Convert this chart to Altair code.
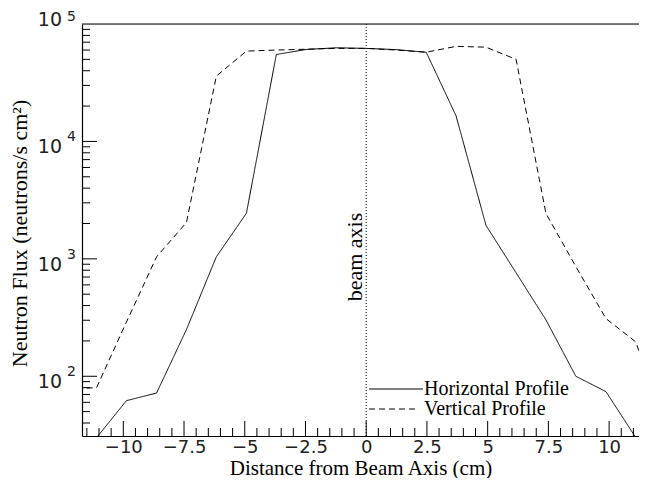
import altair as alt
import pandas as pd

# ---- data ----
x_horizontal = [-11.1, -9.87, -8.63, -7.4, -6.17, -4.93, -3.7, -2.47, -1.23, 0, 1.23, 2.47, 3.7, 4.93, 6.17, 7.4, 8.63, 9.87, 11.1]
horizontal = [30, 62, 72, 250, 1040, 2450, 55000, 60700, 62700, 62000, 60500, 57500, 16500, 1930, 760, 302, 100, 74, 30]

x_vertical = [-12.33, -11.1, -9.87, -8.63, -7.4, -6.17, -4.93, -3.7, -2.47, -1.23, 0, 1.23, 2.47, 3.7, 4.93, 6.17, 7.4, 8.63, 9.87, 11.1, 12.33]
vertical = [78, 80, 290, 1040, 2040, 36000, 58800, 60000, 61000, 62000, 62000, 60000, 57500, 64500, 63500, 50000, 2430, 860, 310, 196, 36]

series_names = ["Horizontal Profile", "Vertical Profile"]

x_major = [-10, -7.5, -5, -2.5, 0, 2.5, 5, 7.5, 10]
x_minor = [-11.5, -11, -10.5, -9.5, -9, -8.5, -8, -7, -6.5, -6, -5.5, -4.5, -4, -3.5, -3,
           -2, -1.5, -1, -0.5, 0.5, 1, 1.5, 2, 3, 3.5, 4, 4.5, 5.5, 6, 6.5, 7, 8, 8.5, 9,
           9.5, 10.5, 11]
y_major = [100, 1000, 10000]
y_minor = [40, 50, 60, 70, 80, 90, 200, 300, 400, 500, 600, 700, 800, 900,
           2000, 3000, 4000, 5000, 6000, 7000, 8000, 9000,
           20000, 30000, 40000, 50000, 60000, 70000, 80000, 90000]
y_label_values = [100, 1000, 10000]
y_label_exponents = ["2", "3", "4"]
y_top_value = [100000]
y_top_exponent = ["5"]

W, H = 557, 412
SERIF = "Liberation Serif"
SANS = "DejaVu Sans"

df = pd.concat([
    pd.DataFrame({"x": x_horizontal, "flux": horizontal, "series": series_names[0]}),
    pd.DataFrame({"x": x_vertical, "flux": vertical, "series": series_names[1]}),
])

xs = alt.Scale(domain=[-11.7, 11.23], nice=False, zero=False)
ys = alt.Scale(type="log", domain=[31, 100000], nice=False)

lines = alt.Chart(df).mark_line(clip=True, color="black", strokeWidth=1).encode(
    x=alt.X("x:Q", scale=xs, axis=alt.Axis(
        values=x_major, format=".1~f", ticks=False, tickSize=0, grid=False, domain=True,
        domainColor="black", domainWidth=1.2, labelFont=SANS, labelFontSize=18,
        labelColor="#222222", labelPadding=2, labelFlush=False, labelOverlap=False,
        title="Distance from Beam Axis (cm)", titleFont=SERIF, titleFontSize=21,
        titleFontWeight="normal", titleColor="black", titleY=32, titleBaseline="middle")),
    y=alt.Y("flux:Q", scale=ys, axis=alt.Axis(
        labels=False, ticks=False, grid=False, domainColor="black", domainWidth=1.2,
        title="Neutron Flux (neutrons/s cm²)", titleFont=SERIF, titleFontSize=22,
        titleFontWeight="normal", titleColor="black", titleX=-63, titleY=209,
        titleAngle=270, titleBaseline="middle", titleAlign="center")),
    strokeDash=alt.StrokeDash("series:N", scale=alt.Scale(domain=series_names, range=[[1, 0], [6, 4]]), legend=None),
)

top_line = alt.Chart(pd.DataFrame({"a": [0]})).mark_rule(color="black", strokeWidth=1.2).encode(
    x=alt.value(0), x2=alt.value(W), y=alt.value(0))

xmaj = alt.Chart(pd.DataFrame({"v": x_major})).mark_rule(color="black", strokeWidth=1).encode(
    x=alt.X("v:Q", scale=xs), y=alt.value(H), y2=alt.value(H - 15))
xmin = alt.Chart(pd.DataFrame({"v": x_minor})).mark_rule(color="black", strokeWidth=1).encode(
    x=alt.X("v:Q", scale=xs), y=alt.value(H), y2=alt.value(H - 8))
ymaj = alt.Chart(pd.DataFrame({"v": y_major})).mark_rule(color="black", strokeWidth=1).encode(
    y=alt.Y("v:Q", scale=ys), x=alt.value(0), x2=alt.value(15))
ymin = alt.Chart(pd.DataFrame({"v": y_minor})).mark_rule(color="black", strokeWidth=1).encode(
    y=alt.Y("v:Q", scale=ys), x=alt.value(0), x2=alt.value(8))

ylab_df = pd.DataFrame({"v": y_label_values, "e": y_label_exponents})
ylab_base = alt.Chart(ylab_df).mark_text(font=SANS, fontSize=19, align="right", baseline="middle", dy=6, color="#222222").encode(
    y=alt.Y("v:Q", scale=ys), x=alt.value(-20), text=alt.value("10"))
ylab_exp = alt.Chart(ylab_df).mark_text(font=SANS, fontSize=14, align="left", baseline="middle", dy=-4, color="#222222").encode(
    y=alt.Y("v:Q", scale=ys), x=alt.value(-15), text="e:N")
ytop_df = pd.DataFrame({"v": y_top_value, "e": y_top_exponent})
ytop_base = alt.Chart(ytop_df).mark_text(font=SANS, fontSize=19, align="right", baseline="middle", dy=-4, color="#222222").encode(
    y=alt.Y("v:Q", scale=ys), x=alt.value(-20), text=alt.value("10"))
ytop_exp = alt.Chart(ytop_df).mark_text(font=SANS, fontSize=14, align="left", baseline="middle", dy=-7, color="#222222").encode(
    y=alt.Y("v:Q", scale=ys), x=alt.value(-15), text="e:N")

beam = alt.Chart(pd.DataFrame({"v": [0]})).mark_rule(color="black", strokeWidth=1, strokeDash=[1, 2]).encode(
    x=alt.X("v:Q", scale=xs))
beam_text = alt.Chart(pd.DataFrame({"v": [0], "t": ["beam axis"]})).mark_text(
    font=SERIF, fontSize=22, angle=270, align="center", baseline="alphabetic", dy=-4, color="black").encode(
    x=alt.X("v:Q", scale=xs), y=alt.value(233), text="t:N")

leg1_line = alt.Chart(pd.DataFrame({"a": [0]})).mark_rule(color="black", strokeWidth=1).encode(
    x=alt.value(287), x2=alt.value(341), y=alt.value(365))
leg2_line = alt.Chart(pd.DataFrame({"a": [0]})).mark_rule(color="black", strokeWidth=1, strokeDash=[6, 4]).encode(
    x=alt.value(287), x2=alt.value(337), y=alt.value(385))
leg1_text = alt.Chart(pd.DataFrame({"t": [series_names[0]]})).mark_text(
    font=SERIF, fontSize=20, align="left", baseline="alphabetic", color="black").encode(
    x=alt.value(342), y=alt.value(371), text="t:N")
leg2_text = alt.Chart(pd.DataFrame({"t": [series_names[1]]})).mark_text(
    font=SERIF, fontSize=20, align="left", baseline="alphabetic", color="black").encode(
    x=alt.value(342), y=alt.value(391), text="t:N")

chart = alt.layer(
    lines, top_line, xmaj, xmin, ymaj, ymin, ylab_base, ylab_exp, ytop_base, ytop_exp,
    beam, beam_text, leg1_line, leg2_line, leg1_text, leg2_text
).properties(
    width=W, height=H,
    autosize=alt.AutoSizeParams(type="none"),
    padding={"left": 74, "top": 16, "right": 0, "bottom": 42},
).configure_view(stroke=None).configure(background="white")

chart.save("out.html", embed_options={"renderer": "svg", "actions": False})
